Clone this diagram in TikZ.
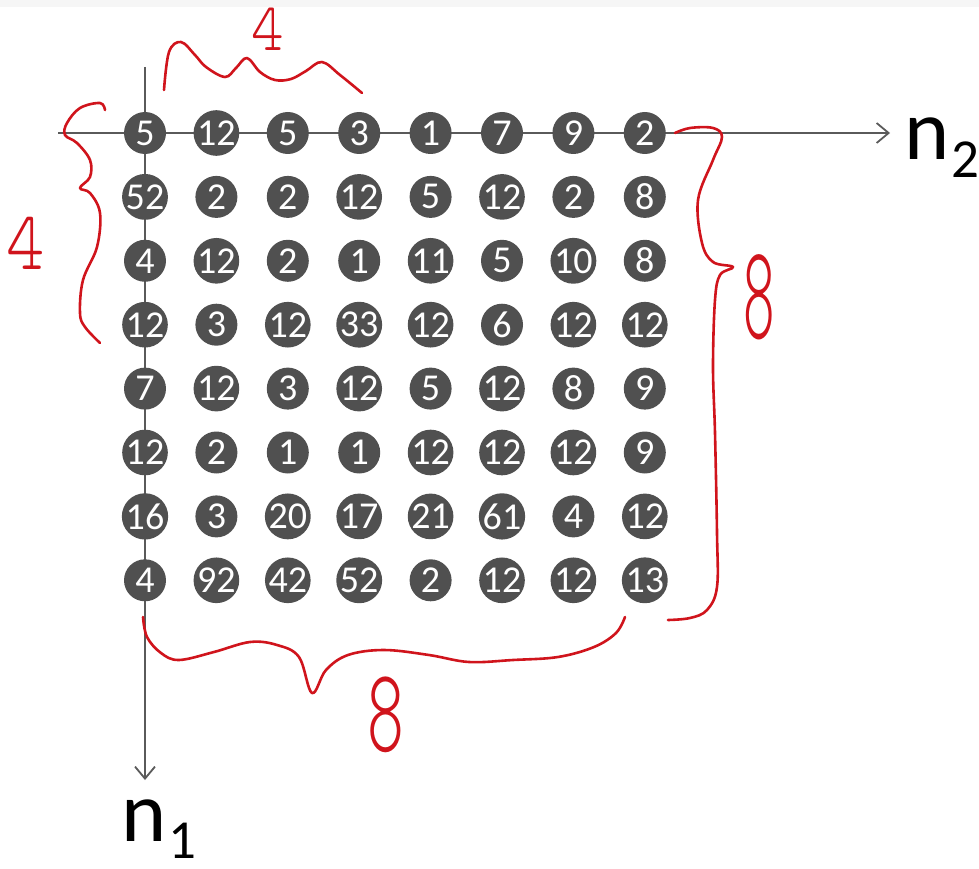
\documentclass[tikz,border=0pt]{standalone}
\usepackage{fontspec}
\setmainfont{Carlito}
\newfontfamily\handfont{Latin Modern Mono Light}
\usetikzlibrary{arrows.meta}
\definecolor{dotgray}{HTML}{505050}
\definecolor{axisgray}{HTML}{5A5A5A}
\definecolor{inkred}{HTML}{D0141C}
\begin{document}
\begin{tikzpicture}[x=1pt,y=-1pt,
  dot/.style={circle,fill=dotgray,minimum size=42pt,inner sep=0pt,text=white,font=\fontsize{38}{38}\selectfont},
  axis/.style={draw=axisgray,line width=1.8pt,-{Straight Barb[length=12pt,width=20pt,line width=1.8pt]}},
  brace/.style={draw=inkred,line width=2.6pt,line cap=round,line join=round},
  hand/.style={text=inkred,inner sep=0pt},
  axlabel/.style={inner sep=0pt,anchor=base west,font=\fontsize{86}{86}\selectfont}]
\useasboundingbox (0,0) rectangle (979,869);
\fill[gray!7] (0,0) rectangle (979,7);
% axes
\coordinate (hx0) at (58,133);
\coordinate (hx1) at (890,133);
\coordinate (vy0) at (145,67);
\coordinate (vy1) at (145,780);
\draw[axis] (hx0) -- (hx1);
\draw[axis] (vy0) -- (vy1);
% grid of values
\foreach \row [count=\i from 0] in {{5,12,5,3,1,7,9,2},{52,2,2,12,5,12,2,8},{4,12,2,1,11,5,10,8},{12,3,12,33,12,6,12,12},{7,12,3,12,5,12,8,9},{12,2,1,1,12,12,12,9},{16,3,20,17,21,61,4,12},{4,92,42,52,2,12,12,13}}{
  \foreach \v [count=\j from 0] in \row {
    \node[dot] (c-\i-\j) at ({145+71.4*\j},{133+63.9*\i}) {\v};
  }
}
% axis labels
\node[axlabel] (n2) at (904,160) {n\kern2pt\raisebox{-18pt}{\fontsize{55}{55}\selectfont 2}};
\node[axlabel] (n1) at (121,841) {n\kern2pt\raisebox{-17pt}{\fontsize{55}{55}\selectfont 1}};
% red hand-drawn braces
\draw[brace] plot[smooth,tension=0.6] coordinates {(164,90) (169,52) (181,42) (195,55) (206,67) (225,77) (236,68) (247,58) (260,72) (275,80) (291,79) (306,71) (322,62) (340,75) (362,93)};
\draw[brace] plot[smooth,tension=0.6] coordinates {(105,110) (100,103) (80,108) (67,123) (65,135) (77,143) (90,160) (90,177) (80,188) (90,193) (100,213) (97,247) (83,280) (80,313) (85,327) (100,343)};
\draw[brace] plot[smooth,tension=0.6] coordinates {(675,133) (690,128) (713,128) (722,137) (713,160) (698,200) (702,243) (713,262) (733,267) (720,275) (715,300) (713,367) (715,433) (717,533) (717,587) (707,610) (690,618) (668,620)};
\draw[brace] plot[smooth,tension=0.6] coordinates {(143,617) (147,637) (161,653) (179,660) (214,652) (250,642) (277,645) (299,657) (312,693) (326,670) (348,655) (384,650) (429,655) (469,662) (513,660) (558,657) (594,647) (616,633) (625,617)};
% red hand-written counts
\node[hand,yscale=1.1,font=\handfont\fontsize{62}{62}\selectfont] (t4) at (268,29) {4};
\node[hand,yscale=1.15,font=\handfont\fontsize{73}{73}\selectfont] (l4) at (26,243) {4};
\node[hand,xscale=0.6,yscale=1.35,font=\handfont\fontsize{100}{100}\selectfont] (r8) at (759,297) {8};
\node[hand,xscale=0.7,yscale=1.2,font=\handfont\fontsize{100}{100}\selectfont] (b8) at (386,715) {8};
\end{tikzpicture}
\end{document}
